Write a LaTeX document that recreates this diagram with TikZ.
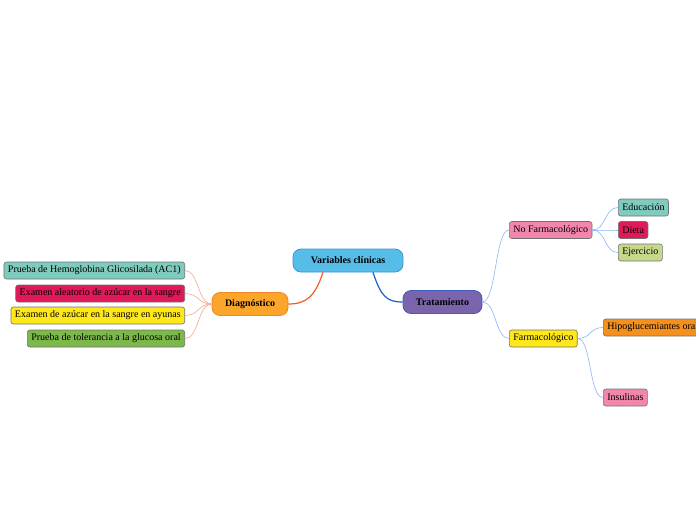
\documentclass[tikz,border=0pt]{standalone}
\usepackage{fontspec}
\setmainfont{Liberation Serif}
\definecolor{cblue}{HTML}{56BCE8}
\definecolor{cbluel}{HTML}{3A95D5}
\definecolor{corange}{HTML}{FBA52A}
\definecolor{corangel}{HTML}{F2862A}
\definecolor{cpurple}{HTML}{7A65AD}
\definecolor{cpurplel}{HTML}{3B5FC0}
\definecolor{lred}{HTML}{F15A29}
\definecolor{lblue}{HTML}{1A5FD0}
\definecolor{lsalmon}{HTML}{F8A58A}
\definecolor{llblue}{HTML}{8AB4F0}
\definecolor{fteal}{HTML}{7FCBBD}
\definecolor{fcrimson}{HTML}{E0195A}
\definecolor{fyellow}{HTML}{FFE81A}
\definecolor{fgreen}{HTML}{7CB84A}
\definecolor{fpink}{HTML}{F386AD}
\definecolor{folive}{HTML}{C6D88A}
\definecolor{forange}{HTML}{F5901E}
\tikzset{
  mainbox/.style={draw, line width=0.8pt, rounded corners=8pt, minimum height=23pt, font=\fontsize{10}{12}\selectfont\bfseries, inner xsep=4pt},
  leafbox/.style={draw=black!55, line width=0.6pt, rounded corners=2.5pt, minimum height=17pt, inner xsep=4pt, inner ysep=0pt, font=\fontsize{10}{12}\selectfont},
  lmain/.style={line width=1.2pt},
  lleaf/.style={line width=0.6pt}
}
\begin{document}
\begin{tikzpicture}[x=1pt,y=-1pt]
\useasboundingbox (0,0) rectangle (696,520);
\clip (0,0) rectangle (696,520);
% main nodes
\node[mainbox, fill=cblue, draw=cbluel, minimum width=110pt] (root) at (348,260.5) {Variables clínicas};
\node[mainbox, fill=corange, draw=corangel, minimum width=76pt] (diag) at (250,304) {Diagnóstico};
\node[mainbox, fill=cpurple, draw=cpurplel, minimum width=79pt] (trat) at (442.5,302) {Tratamiento};
% left leaves
\node[leafbox, fill=fteal, anchor=east] (l1) at (185,270.5) {Prueba de Hemoglobina Glicosilada (AC1)};
\node[leafbox, fill=fcrimson, anchor=east] (l2) at (185,293.5) {Examen aleatorio de azúcar en la sangre};
\node[leafbox, fill=fyellow, anchor=east] (l3) at (185,315.5) {Examen de azúcar en la sangre en ayunas};
\node[leafbox, fill=fgreen, anchor=east] (l4) at (185,338.5) {Prueba de tolerancia a la glucosa oral};
% right
\node[leafbox, fill=fpink, anchor=west] (nf) at (509,230) {No Farmacológico};
\node[leafbox, fill=fyellow, anchor=west] (fa) at (509,338.5) {Farmacológico};
\node[leafbox, fill=fteal, anchor=west] (r1) at (618,207.5) {Educación};
\node[leafbox, fill=fcrimson, anchor=west] (r2) at (618,230) {Dieta};
\node[leafbox, fill=folive, anchor=west] (r3) at (618,252.5) {Ejercicio};
\node[leafbox, fill=forange, anchor=west] (r4) at (603,327.5) {Hipoglucemiantes orales};
\node[leafbox, fill=fpink, anchor=west] (r5) at (603,397.5) {Insulinas};
% main connectors
\coordinate (rootL) at ([xshift=-25pt]root.south);
\coordinate (rootR) at ([xshift=25pt]root.south);
\draw[lmain, lred] (rootL) .. controls +(-8,24) and +(18,0) .. (diag.east);
\draw[lmain, lblue] (rootR) .. controls +(8,24) and +(-16,0) .. (trat.west);
% diag leaves
\foreach \n in {l1,l2,l3,l4}
  \draw[lleaf, lsalmon] (diag.west) .. controls +(-14,0) and +(14,0) .. (\n.east);
% trat leaves
\foreach \n in {nf,fa}
  \draw[lleaf, llblue] (trat.east) .. controls +(14,0) and +(-14,0) .. (\n.west);
\foreach \n in {r1,r2,r3}
  \draw[lleaf, llblue] (nf.east) .. controls +(14,0) and +(-14,0) .. (\n.west);
\foreach \n in {r4,r5}
  \draw[lleaf, llblue] (fa.east) .. controls +(14,0) and +(-14,0) .. (\n.west);
\end{tikzpicture}
\end{document}
